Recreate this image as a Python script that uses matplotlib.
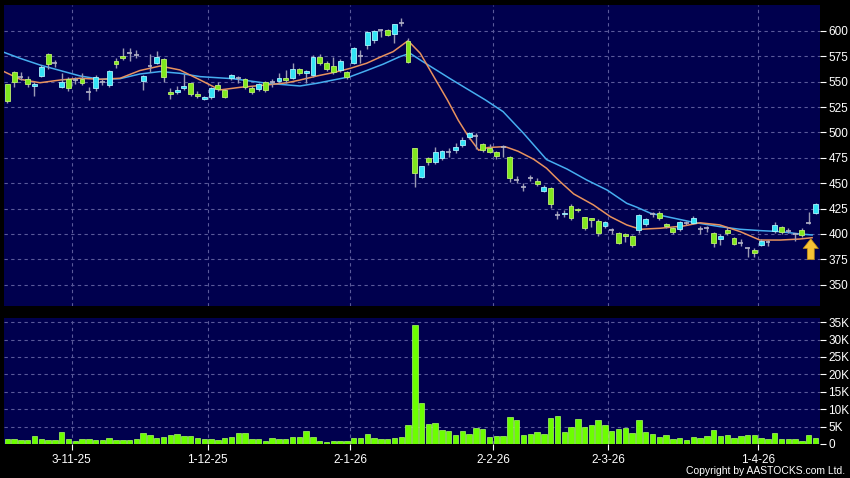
import numpy as np
import matplotlib
matplotlib.use('Agg')
import matplotlib.pyplot as plt

plt.rcParams['font.family'] = ['Liberation Sans', 'DejaVu Sans']

# daily candles, Oct-2025 .. Apr-2026 (open, high, low, close)
opens = [547.5, 560, 555, 552.5, 546, 556, 577, 568, 545, 552.5,
         551.5, 552.5, 540, 543.5, 550, 547, 570, 575, 578.5, 576.5,
         550.5, 565, 568, 572, 539.5, 540, 543.5, 548.5, 538, 533,
         534.5, 547, 542, 553.5, 554, 552.5, 544, 543, 549.5, 550,
         550.5, 554, 554, 563, 558.5, 556.5, 574.5, 568, 565, 561.5,
         559.5, 568, 575.5, 586.5, 591, 600.5, 601, 597, 608, 590.5,
         484.5, 456.5, 474.5, 470.5, 474.5, 480.5, 483, 487.5, 495.5, 496.5,
         488.5, 484.5, 480.5, 485.5, 476, 453, 446, 455.5, 452, 442.5,
         445, 419, 419.5, 427.5, 425, 416.5, 415.5, 413, 408, 403.5,
         400.5, 400, 398, 403.5, 410, 419.5, 420.5, 410, 406, 404.5,
         411, 411, 404.5, 405.5, 400.5, 395, 404, 396, 391, 386,
         384, 389, 392.5, 402.5, 407, 402.5, 400, 404, 410.5, 421]
highs = [548, 561, 560, 556, 550, 566, 578, 571, 559, 555,
         555, 559, 545, 557, 553, 562, 573, 583, 583, 581,
         557, 577, 580, 573, 543.5, 546, 558, 549, 541, 536,
         545, 550, 543, 558, 556, 554, 546, 549, 551, 553,
         559, 561.5, 568, 564, 562, 576, 577, 570, 574.5, 572,
         561, 584, 581, 600, 601, 602, 602, 607, 612.5, 593,
         485, 467, 476, 485.5, 483, 484.5, 490, 495.5, 500, 499,
         490, 489, 482, 487.5, 477, 457.5, 450, 458, 455, 448,
         446, 423, 424, 430, 426, 417, 416, 415, 413, 405.5,
         402, 401, 399, 420, 416, 422, 423, 411, 407, 413,
         413, 418, 408, 408, 402, 400, 406.5, 397, 395, 387.5,
         386, 395, 394, 411.5, 408, 406, 401, 405.5, 422, 430.5]
lows = [529.5, 544.5, 552, 545, 536, 555, 563, 564.5, 544, 541,
        548, 547, 532, 541, 547, 545, 564, 571, 570, 573,
        542, 560, 567, 549.5, 532.5, 538, 542, 536, 534, 532,
        533, 541, 534, 552, 549, 543, 538, 541, 540, 545,
        549, 549, 553, 557, 548.5, 555, 566, 561, 558, 560,
        553, 567, 568, 582, 588, 594.5, 595, 588, 605, 568,
        446.5, 455, 468, 469, 473, 475.5, 479.5, 486, 494, 483.5,
        481, 479.5, 473.5, 476, 451.5, 450, 442.5, 452, 447, 441,
        425.5, 415, 417, 414, 422, 404, 407, 398, 406, 400,
        390, 392, 387.5, 401, 408, 417, 414, 406, 400, 403,
        409, 410, 400, 402, 387, 389, 399, 389, 388, 377.5,
        377.5, 388, 388, 401, 400, 401, 393.5, 397, 410, 419.5]
closes = [531, 549.5, 555, 547.5, 548, 564.5, 567, 568, 550, 543.5,
          551.5, 548.5, 540, 555, 550, 561, 567, 573, 578.5, 576.5,
          555.5, 565, 574, 554.5, 538, 542, 546, 537.5, 536, 535,
          543.5, 542.5, 535, 556.5, 554, 544.5, 539.5, 547.5, 542, 550,
          554, 551.5, 562.5, 558.5, 560.5, 574.5, 568, 563, 559.5, 570.5,
          554.5, 583, 575.5, 599, 599.5, 600.5, 596.5, 606.5, 608, 569.5,
          460, 466.5, 470.5, 480.5, 482, 480.5, 485.5, 492.5, 499, 496.5,
          483, 481, 477, 485.5, 455, 453, 446, 455.5, 449, 446,
          429.5, 419, 421, 415.5, 424, 406, 414, 400.5, 411.5, 403.5,
          391.5, 397.5, 389, 418.5, 414.5, 419.5, 415.5, 407.5, 401.5, 412,
          411, 415.5, 404.5, 405.5, 391, 398, 400.5, 390, 391, 386,
          381, 393.5, 392.5, 409, 401.5, 402.5, 400, 399, 410.5, 430]
# volume in thousands
volume = [1.5, 1.4, 1.1, 1.1, 2.2, 1.5, 1.25, 1.25, 3.5, 1.5,
          0.9, 1.5, 1.5, 1.1, 1.1, 1.6, 1.25, 1.25, 1.1, 1.5,
          3.2, 2.7, 1.6, 1.9, 2.6, 3.0, 2.4, 2.4, 1.8, 1.35,
          1.5, 1.1, 1.6, 2.1, 3.1, 3.1, 1.35, 1.4, 0.8, 1.8,
          1.5, 1.5, 2.1, 2.1, 3.7, 1.9, 0.8, 0.5, 1.0, 1.0,
          1.0, 1.8, 1.6, 3.0, 1.6, 1.4, 1.4, 1.7, 2.0, 5.4,
          34.2, 11.9, 5.7, 5.9, 3.9, 3.65, 2.7, 3.75, 3.0, 4.6,
          4.2, 2.0, 2.4, 2.4, 7.8, 6.8, 2.5, 3.0, 3.4, 3.0,
          7.6, 8.1, 3.4, 4.9, 7.2, 4.9, 5.5, 7.0, 5.5, 3.65,
          4.2, 4.6, 3.2, 7.0, 3.4, 2.8, 2.0, 2.7, 1.35, 1.6,
          1.1, 2.0, 1.7, 2.3, 4.1, 2.2, 2.6, 1.6, 2.3, 2.7,
          2.7, 1.7, 1.4, 3.3, 1.35, 1.35, 1.5, 0.9, 2.7, 1.8]

# moving averages (bar index, price)
ma_short_idx = [-0.5, 1.9, 4.8, 7.8, 10.7, 13.7, 16.6, 19.5, 22.5, 25.4,
                28.4, 31.3, 34.3, 38.2, 41.2, 43.1, 45.6, 48, 50.5, 52.9,
                55.3, 56.8, 59, 60.8, 64.8, 66.4, 67.9, 69.4, 70.8, 73.3,
                75.2, 77.5, 79.4, 80.4, 81.4, 83.4, 86.3, 88.8, 91.2, 93.2,
                96.1, 99.6, 102, 104.9, 107.9, 110.8, 113.8, 116.7, 118.5]
ma_short = [560, 552.4, 549, 551.7, 553.4, 552.4, 553.4, 561, 565.5, 561.6,
            551.7, 541.9, 544.5, 546.8, 549, 551.7, 555.7, 559, 563.2, 568.2,
            575.4, 579.6, 590.4, 578, 532, 512, 496, 482.5, 485.2, 486,
            481.5, 473.6, 464.7, 458, 451.5, 439.4, 428.6, 417, 408.9, 404.6,
            405.6, 407.9, 411, 408.9, 402.3, 394, 394, 395, 396.3]
ma_long_idx = [-0.5, 1.9, 4.8, 7.8, 10.7, 13.7, 16.6, 19.5, 22.5, 25.4,
               28.4, 33.2, 38.2, 43.1, 45.6, 48, 50.5, 52.9, 55.3, 57.8,
               59.3, 60.8, 65.2, 70.4, 73, 76, 79.4, 82.4, 85.3, 88.3,
               91.2, 92.7, 94.7, 97.1, 101, 104.9, 107.9, 110.8, 113.8, 116.7,
               118.5]
ma_long = [579, 573, 566.5, 561, 555.7, 552.4, 553, 557.6, 560, 558.3,
           555, 553, 548.5, 545.8, 548.5, 551.7, 555, 561, 567.2, 574.7,
           578, 571.4, 553, 532, 520.5, 499.2, 473.3, 464, 453.2, 443.3,
           430.2, 426.3, 420.4, 417, 411.5, 407.2, 404.6, 403.3, 402.3, 400,
           399]

tick_idx = [10, 30, 51, 72, 89, 111]
tick_labels = ['3-11-25', '1-12-25', '2-1-26', '2-2-26', '2-3-26', '1-4-26']

navy = '#00004e'
grid_c = '#5a5a9a'
up_c, up_edge = '#33e3f5', '#a8f4ff'
dn_c, dn_edge = '#80e81e', '#c0f070'
flat_c = '#b4b4c8'
wick_c = '#9a9ab4'

W, H = 850, 478
fig = plt.figure(figsize=(W / 100, H / 100), dpi=100, facecolor='black')
ax = fig.add_axes([4 / W, (H - 306) / H, 816 / W, 301 / H], facecolor=navy)
axv = fig.add_axes([4 / W, (H - 444) / H, 816 / W, 126 / H], facecolor=navy)

o = np.array(opens)
c = np.array(closes)
hi = np.array(highs)
lo = np.array(lows)
x = np.arange(len(o))

for a in (ax, axv):
    a.set_xlim(-0.49, 119.66)
    for s in a.spines.values():
        s.set_visible(False)
    for t in tick_idx:
        a.axvline(t - 0.5, color=grid_c, lw=0.8, ls=(0, (3, 3)), zorder=0)

# price panel
for p in range(350, 601, 25):
    ax.axhline(p, color=grid_c, lw=0.8, ls=(0, (3, 3)), zorder=0)
ax.plot(ma_long_idx, ma_long, color='#46aef0', lw=1.1, zorder=2)
ax.plot(ma_short_idx, ma_short, color='#e8925e', lw=1.1, zorder=2)
ax.vlines(x, lo, hi, color=wick_c, lw=1, zorder=3)

up = c > o
dn = c < o
fl = c == o
ax.bar(x[up], (c - o)[up], bottom=o[up], width=0.72, color=up_c,
       edgecolor=up_edge, lw=0.6, zorder=4)
ax.bar(x[dn], (o - c)[dn], bottom=c[dn], width=0.72, color=dn_c,
       edgecolor=dn_edge, lw=0.6, zorder=4)
ax.hlines(c[fl], x[fl] - 0.36, x[fl] + 0.36, color=flat_c, lw=1.2, zorder=4)

ax.annotate('', xy=(118.3, 398), xytext=(118.3, 372),
            arrowprops=dict(arrowstyle='simple,head_width=1.1,head_length=0.7,tail_width=0.5',
                            fc='#f7c235', ec='#c08a10', lw=0.5), zorder=5)

ax.set_ylim(329, 625.6)
ax.yaxis.tick_right()
ax.set_yticks(range(350, 601, 25))
ax.tick_params(axis='y', colors='white', length=4, width=0.8, labelsize=8.5, pad=2)
ax.set_xticks([])

# volume panel
for v in range(5, 36, 5):
    axv.axhline(v, color=grid_c, lw=0.8, ls=(0, (3, 3)), zorder=0)
axv.bar(x, volume, width=0.8, color='#6cff00', edgecolor='#a8ff60', lw=0.5, zorder=3)
axv.set_ylim(0, 36.2)
axv.yaxis.tick_right()
axv.set_yticks(range(0, 36, 5))
axv.set_yticklabels(['0'] + ['%dK' % v for v in range(5, 36, 5)])
axv.tick_params(axis='y', colors='white', length=4, width=0.8, labelsize=8.5, pad=2)
axv.set_xticks([t - 0.5 for t in tick_idx])
axv.set_xticklabels(tick_labels)
axv.tick_params(axis='x', colors='white', length=4, width=0.8, labelsize=8.5, pad=3)

fig.text(845 / W, 1 - 471 / H, 'Copyright by AASTOCKS.com Ltd.', color='white',
         fontsize=7.5, ha='right', va='center')

fig.savefig('out.png', dpi=100, facecolor='black')
